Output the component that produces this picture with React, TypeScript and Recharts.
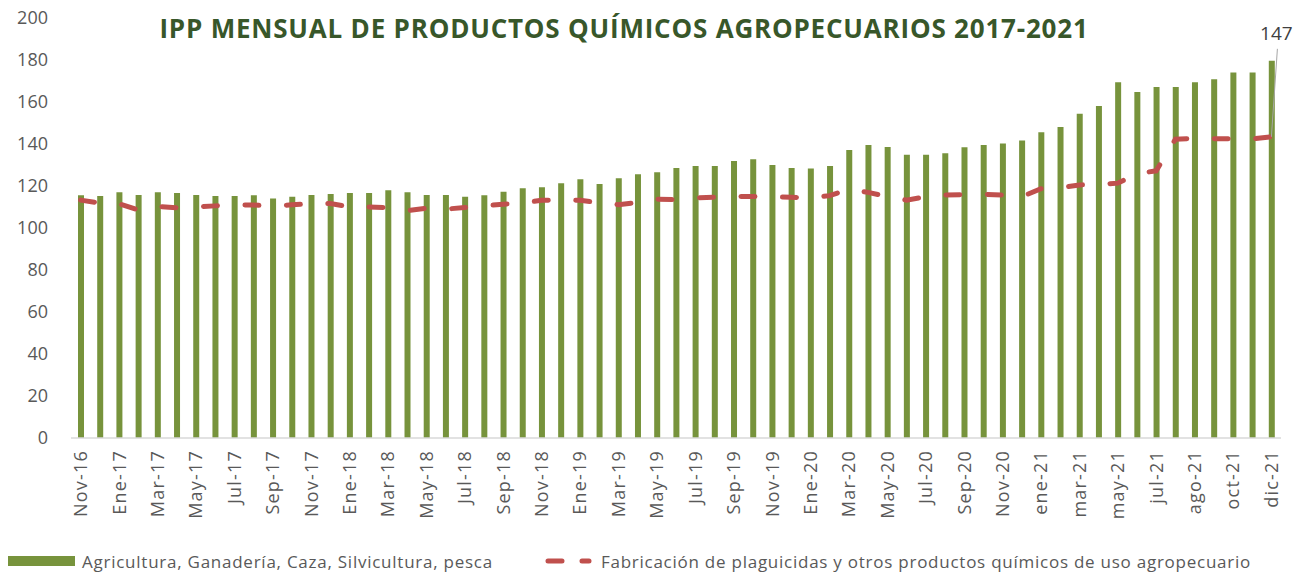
import React from 'react';
import { Bar, ComposedChart, LabelList, Legend, Line, XAxis, YAxis } from 'recharts';

// months Nov-16 .. dic-21 (the source sheet repeats jul-21 once, labels every other month)
const months = [
  'Nov-16', 'Dic-16', 'Ene-17', 'Feb-17', 'Mar-17', 'Abr-17', 'May-17', 'Jun-17', 'Jul-17', 'Ago-17',
  'Sep-17', 'Oct-17', 'Nov-17', 'Dic-17', 'Ene-18', 'Feb-18', 'Mar-18', 'Abr-18', 'May-18', 'Jun-18',
  'Jul-18', 'Ago-18', 'Sep-18', 'Oct-18', 'Nov-18', 'Dic-18', 'Ene-19', 'Feb-19', 'Mar-19', 'Abr-19',
  'May-19', 'Jun-19', 'Jul-19', 'Ago-19', 'Sep-19', 'Oct-19', 'Nov-19', 'Dic-19', 'Ene-20', 'Feb-20',
  'Mar-20', 'Abr-20', 'May-20', 'Jun-20', 'Jul-20', 'Ago-20', 'Sep-20', 'Oct-20', 'Nov-20', 'Dic-20',
  'ene-21', 'feb-21', 'mar-21', 'abr-21', 'may-21', 'jun-21', 'jul-21', 'jul-21 ', 'ago-21', 'sep-21',
  'oct-21', 'nov-21', 'dic-21',
];

const agricultura = [
  115.6, 115.2, 117.0, 115.7, 117.0, 116.7, 115.7, 115.2, 115.2, 115.6,
  114.0, 114.9, 115.7, 116.2, 116.7, 116.7, 118.0, 117.0, 115.7, 115.7,
  114.9, 115.6, 117.3, 118.9, 119.4, 121.3, 123.2, 121.0, 123.7, 125.6,
  126.5, 128.6, 129.5, 129.5, 131.9, 132.7, 130.0, 128.6, 128.3, 129.5,
  137.1, 139.5, 138.6, 134.9, 134.9, 135.6, 138.4, 139.5, 140.2, 141.7,
  145.6, 148.1, 154.4, 158.1, 169.4, 164.8, 167.1, 167.1, 169.4, 170.8,
  174.0, 174.0, 179.7,
];

// plotted against its own (hidden) secondary axis
const plaguicidas = [
  116.1, 114.7, 114.4, 111.3, 113.0, 112.4, 112.8, 113.3, 113.8, 113.7,
  113.3, 113.8, 114.4, 114.4, 112.8, 112.8, 112.4, 111.0, 112.1, 111.7,
  112.5, 113.3, 114.1, 114.7, 116.0, 116.3, 116.0, 114.8, 113.9, 115.0,
  116.6, 116.3, 117.2, 117.5, 117.8, 117.9, 117.7, 117.5, 117.2, 118.3,
  121.4, 119.9, 117.8, 116.1, 117.8, 118.6, 118.8, 118.9, 118.6, 117.8,
  121.7, 122.2, 123.5, 123.8, 124.4, 129.0, 130.4, 145.8, 146.3, 146.1,
  146.0, 146.0, 147.0,
];

const yTicks = [0, 20, 40, 60, 80, 100, 120, 140, 160, 180, 200];

const data = months.map((m, i) => ({
  mes: m,
  agricultura: agricultura[i],
  plaguicidas: plaguicidas[i],
}));

const GREEN = '#77933C';
const RED = '#C0504D';
const TEXT = '#595959';
const FONT = '"Open Sans", sans-serif';

function MonthTick({ x, y, payload }: any) {
  return (
    <g transform={`translate(${x},${y})`}>
      <text
        transform="rotate(-90)"
        textAnchor="end"
        dy="0.36em"
        fontSize={18}
        fill={TEXT}
        fontFamily={FONT}
        letterSpacing={1.2}
      >
        {String(payload.value).trim()}
      </text>
    </g>
  );
}

function LastLabel({ x, y, index, value }: any) {
  if (index !== plaguicidas.length - 1) return null;
  return (
    <g>
      <line x1={x} y1={y} x2={x + 6} y2={y - 88} stroke="#A6A6A6" strokeWidth={1} />
      <text x={x + 5} y={y - 97} textAnchor="middle" fontSize={19} fill="#404040" fontFamily={FONT}>
        {Math.round(value)}
      </text>
    </g>
  );
}

function LegendBox() {
  return (
    <div
      style={{
        display: 'flex',
        alignItems: 'center',
        height: 24,
        fontFamily: FONT,
        fontSize: 17,
        letterSpacing: 0.75,
        color: TEXT,
        whiteSpace: 'nowrap',
      }}
    >
      <span style={{ display: 'inline-block', width: 67, height: 10, background: GREEN, marginLeft: 8 }} />
      <span style={{ marginLeft: 7 }}>Agricultura, Ganadería, Caza, Silvicultura, pesca</span>
      <svg width={50} height={10} style={{ marginLeft: 50 }}>
        <line x1={5} y1={5} x2={46} y2={5} stroke={RED} strokeWidth={5} strokeLinecap="round" strokeDasharray="14 20" />
      </svg>
      <span style={{ marginLeft: 8 }}>
        Fabricación de plaguicidas y otros productos químicos de uso agropecuario
      </span>
    </div>
  );
}

export default function App() {
  return (
    <div style={{ position: 'absolute', left: 0, top: 0, width: 1311, height: 573, background: '#fff' }}>
      <div
        style={{
          position: 'absolute',
          left: 0,
          top: 8,
          width: 1248,
          textAlign: 'center',
          fontFamily: FONT,
          fontWeight: 700,
          fontSize: 26,
          letterSpacing: 0.8,
          lineHeight: '40px',
          color: '#38572A',
          zIndex: 1,
        }}
      >
        IPP MENSUAL DE PRODUCTOS QUÍMICOS AGROPECUARIOS 2017-2021
      </div>
      <ComposedChart
        width={1311}
        height={573}
        data={data}
        margin={{ top: 18, right: 30, bottom: 0, left: 11 }}
        barCategoryGap={0}
      >
        <XAxis
          dataKey="mes"
          interval={1}
          tickLine={false}
          axisLine={{ stroke: '#D9D9D9', strokeWidth: 1.5 }}
          tick={<MonthTick />}
          tickMargin={6}
          height={111}
        />
        <YAxis
          yAxisId="left"
          domain={[0, 200]}
          ticks={yTicks}
          interval={0}
          axisLine={false}
          tickLine={false}
          tickMargin={17}
          width={60}
          tick={{ fontSize: 18, fill: TEXT, fontFamily: FONT }}
        />
        <YAxis yAxisId="right" orientation="right" domain={[0, 205]} hide />
        <Legend verticalAlign="bottom" content={<LegendBox />} wrapperStyle={{ left: 0, width: 1311 }} />
        <Bar
          yAxisId="left"
          dataKey="agricultura"
          name="Agricultura, Ganadería, Caza, Silvicultura, pesca"
          fill={GREEN}
          barSize={6}
          isAnimationActive={false}
        />
        <Line
          yAxisId="right"
          dataKey="plaguicidas"
          name="Fabricación de plaguicidas y otros productos químicos de uso agropecuario"
          type="linear"
          stroke={RED}
          strokeWidth={5}
          strokeLinecap="round"
          strokeDasharray="14 27.5"
          dot={false}
          activeDot={false}
          isAnimationActive={false}
        >
          <LabelList dataKey="plaguicidas" content={<LastLabel />} />
        </Line>
      </ComposedChart>
    </div>
  );
}
